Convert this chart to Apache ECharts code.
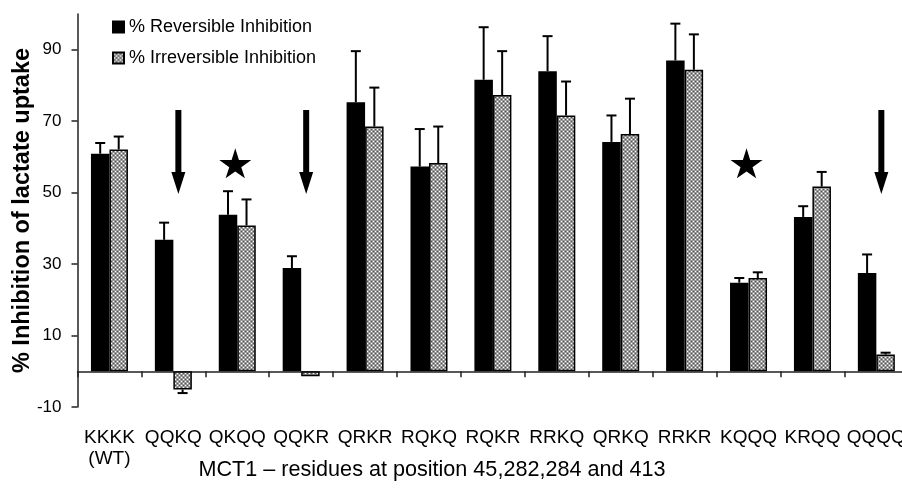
<!DOCTYPE html>
<html>
<head>
<meta charset="utf-8">
<script src="https://cdn.jsdelivr.net/npm/echarts@6/dist/echarts.min.js"></script>
<style>
  html, body { margin: 0; padding: 0; background: #fff; }
  #chart { width: 902px; height: 488px; }
</style>
</head>
<body>
<div id="chart"></div>
<script>
// ===== data =====
const categories = ['KKKK\n(WT)', 'QQKQ', 'QKQQ', 'QQKR', 'QRKR', 'RQKQ', 'RQKR', 'RRKQ', 'QRKQ', 'RRKR', 'KQQQ', 'KRQQ', 'QQQQ'];
const reversible   = [60.9, 36.8, 43.8, 28.9, 75.3, 57.3, 81.6, 84.0, 64.2, 87.0, 24.8, 43.2, 27.5];
const reversibleSd = [3.0, 4.8, 6.6, 3.3, 14.3, 10.5, 14.7, 9.8, 7.4, 10.3, 1.3, 3.0, 5.2];
const irreversible   = [62.1, -5.1, 40.8, -1.4, 68.5, 58.3, 77.3, 71.6, 66.4, 84.4, 26.1, 51.7, 4.7];
const irreversibleSd = [3.6, 1.0, 7.3, 0, 10.9, 10.2, 12.3, 9.5, 9.9, 9.9, 1.6, 4.1, 0.5];
const yTicks = [-10, 10, 30, 50, 70, 90];
// annotations (category index, value level)
const arrowMarks = [1, 3, 12];
const arrowLevel = 61.4;
const starMarks = [2, 10];
const starLevel = 58.2;

const FONT = 'Liberation Sans, Arial, sans-serif';
const BAR_W = 18.5;

// grey crosshatch fill for the irreversible bars
function makePattern() {
  const c = document.createElement('canvas');
  c.width = 4; c.height = 4;
  const g = c.getContext('2d');
  g.fillStyle = '#9a9a9a'; g.fillRect(0, 0, 4, 4);
  g.fillStyle = '#ffffff'; g.fillRect(1, 1, 1, 1); g.fillRect(3, 3, 1, 1);
  g.fillStyle = '#555555'; g.fillRect(1, 3, 1, 1); g.fillRect(3, 1, 1, 1);
  return { image: c, repeat: 'repeat' };
}
const hatch = makePattern();

function errorSeries(values, sd, side) {
  return {
    type: 'custom',
    z: 5,
    silent: true,
    data: values.map((v, i) => [i, v, v + (v < 0 ? -sd[i] : sd[i])]),
    renderItem(params, api) {
      const i = api.value(0);
      if (api.value(1) === api.value(2)) return null;
      const base = api.coord([i, api.value(1)]);
      const end = api.coord([i, api.value(2)]);
      const x = base[0] + side * BAR_W / 2;
      const st = { stroke: '#000', lineWidth: 2 };
      return {
        type: 'group',
        children: [
          { type: 'line', shape: { x1: x, y1: base[1], x2: x, y2: end[1] }, style: st },
          { type: 'line', shape: { x1: x - 5, y1: end[1], x2: x + 5, y2: end[1] }, style: st }
        ]
      };
    }
  };
}

const arrowPath = 'path://M4,0 L10,0 L10,62 L14,62 L7,84 L0,62 L4,62 Z';
const starPath = 'path://M50,0 L61,35 L98,35 L68,57 L79,91 L50,70 L21,91 L32,57 L2,35 L39,35 Z';

const chart = echarts.init(document.getElementById('chart'), null, { renderer: 'canvas' });

// markPoints sit on the black bar (half a bar left of the category centre)
const HALF = BAR_W / 2;

chart.setOption({
  animation: false,
  textStyle: { fontFamily: FONT },
  grid: { left: 77.5, right: -6.3, top: 14, bottom: 81, containLabel: false, outerBoundsMode: 'none' },
  legend: {
    orient: 'vertical',
    left: 112,
    top: 18,
    padding: 0,
    itemWidth: 11,
    itemHeight: 11,
    itemGap: 13,
    icon: 'rect',
    textStyle: { fontFamily: FONT, fontSize: 18, color: '#000' },
    data: ['% Reversible Inhibition', '% Irreversible Inhibition']
  },
  xAxis: {
    type: 'category',
    data: categories,
    axisLine: { onZero: true, lineStyle: { color: '#222', width: 1.5 } },
    axisTick: { show: true, length: 6, lineStyle: { color: '#222', width: 1.5 } },
    axisLabel: { interval: 0, margin: 20, fontSize: 19, lineHeight: 21, color: '#000', fontFamily: FONT, hideOverlap: false }
  },
  yAxis: {
    type: 'value',
    min: -10,
    max: 100,
    name: '% Inhibition of lactate uptake',
    nameLocation: 'middle',
    nameGap: 43,
    nameMoveOverlap: false,
    nameRotate: 90,
    nameTextStyle: { fontSize: 23.5, fontWeight: 'bold', color: '#000', fontFamily: FONT },
    splitLine: { show: false },
    axisLine: { show: true, lineStyle: { color: '#222', width: 1.5 } },
    axisTick: { show: true, length: 6, customValues: yTicks, lineStyle: { color: '#222', width: 1.5 } },
    axisLabel: { customValues: yTicks, margin: 16, fontSize: 17, color: '#000', fontFamily: FONT }
  },
  graphic: [{
    type: 'text',
    x: 432,
    y: 470,
    style: {
      text: 'MCT1 \u2013 residues at position 45,282,284 and 413',
      font: '21.6px ' + FONT,
      fill: '#000',
      textAlign: 'center',
      textVerticalAlign: 'middle'
    }
  }],
  series: [
    {
      name: '% Reversible Inhibition',
      type: 'bar',
      data: reversible,
      barWidth: BAR_W,
      barGap: '0%',
      itemStyle: { color: '#000', borderColor: '#000', borderWidth: 1.5 },
      markPoint: {
        silent: true,
        label: { show: false },
        data: [
          ...arrowMarks.map(i => ({ coord: [i, arrowLevel], symbol: arrowPath, symbolSize: [14, 84], symbolOffset: [5 + HALF, 0], itemStyle: { color: '#000' } })),
          ...starMarks.map(i => ({ coord: [i, starLevel], symbol: starPath, symbolSize: [32, 30], symbolOffset: [-2 + HALF, 0], itemStyle: { color: '#000' } }))
        ]
      }
    },
    {
      name: '% Irreversible Inhibition',
      type: 'bar',
      data: irreversible,
      barWidth: BAR_W,
      barGap: '0%',
      itemStyle: { color: hatch, borderColor: '#000', borderWidth: 1.5 }
    },
    errorSeries(reversible, reversibleSd, -1),
    errorSeries(irreversible, irreversibleSd, 1)
  ]
});
</script>
</body>
</html>
